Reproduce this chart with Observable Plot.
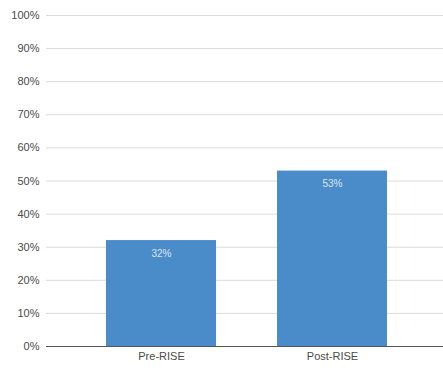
<!DOCTYPE html>
<html>
<head>
<meta charset="utf-8">
<script src="https://cdn.jsdelivr.net/npm/d3@7"></script>
<script src="https://cdn.jsdelivr.net/npm/@observablehq/plot@0.6"></script>
<style>
  html, body { margin: 0; padding: 0; background: #fff; }
  #chart svg { font-family: Arial, "Liberation Sans", sans-serif; }
</style>
</head>
<body>
<div id="chart"></div>
<script>
const categories = ["Pre-RISE", "Post-RISE"];
const values = [0.32, 0.53];
const yTicks = [0, 0.1, 0.2, 0.3, 0.4, 0.5, 0.6, 0.7, 0.8, 0.9, 1.0];

const data = categories.map((c, i) => ({category: c, value: values[i]}));
const pct = d => Math.round(d * 100) + "%";

const chart = Plot.plot({
  width: 443,
  height: 368,
  marginTop: 15,
  marginBottom: 22,
  marginLeft: 46,
  marginRight: 0,
  style: {fontSize: "11px", color: "#4a4a4a", background: "#fff"},
  x: {domain: categories, label: null, paddingInner: 0.357, paddingOuter: 0.339, align: 0.517, tickSize: 0, tickPadding: 6},
  y: {domain: [0, 1], label: null, ticks: yTicks, tickFormat: pct, tickSize: 0, tickPadding: 7},
  marks: [
    Plot.ruleY(yTicks, {stroke: "#dadada", strokeWidth: 1}),
    Plot.barY(data, {x: "category", y: "value", fill: "#4a8bca"}),
    Plot.ruleY([0], {stroke: "#555", strokeWidth: 1}),
    Plot.text(data, {x: "category", y: "value", text: d => pct(d.value), fill: "#dce8f5", dy: 13, fontSize: 10})
  ]
});
document.getElementById("chart").appendChild(chart);
</script>
</body>
</html>
